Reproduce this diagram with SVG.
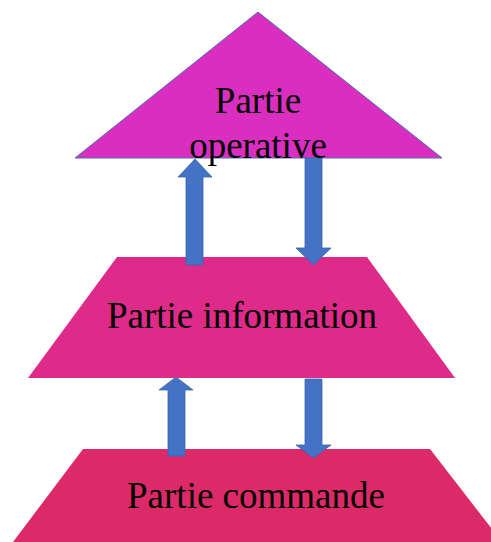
<svg xmlns="http://www.w3.org/2000/svg" width="491" height="542" viewBox="0 0 491 542">
<style>
.lbl{font-family:'Liberation Serif',serif;font-size:37px;fill:#000;text-anchor:middle}
.arr{fill:#4472C4;stroke:#3B64AE;stroke-width:0.8}
</style>
<rect width="491" height="542" fill="#fff"/>
<g id="commande">
<polygon points="83,449 430,449 502,542 13,542" fill="#DC2A68"/>
</g>
<g id="information">
<polygon points="117,257 367,257 455,378 28,378" fill="#DE2A88"/>
</g>
<g id="operative">
<polygon points="258,12 442,158 75,158" fill="#DA2EC0" stroke="#4A6BB8" stroke-width="1"/>
</g>
<g id="connectors">
<polygon class="arr" points="195,159 212,177 203,177 203,265 186,265 186,177 178,177"/>
<polygon class="arr" points="305,158 322,158 322,248 331,248 313.5,265 296,248 305,248"/>
<polygon class="arr" points="176,377 193,390 185,390 185,456 168,456 168,390 159,390"/>
<polygon class="arr" points="305,379 322,379 322,445 331,445 313.5,458 296,445 305,445"/>
</g>
<g id="labels">
<text class="lbl" x="258" y="113">Partie</text>
<text class="lbl" x="258" y="158">operative</text>
<text class="lbl" x="242" y="328">Partie information</text>
<text class="lbl" x="256" y="508">Partie commande</text>
</g>
</svg>
